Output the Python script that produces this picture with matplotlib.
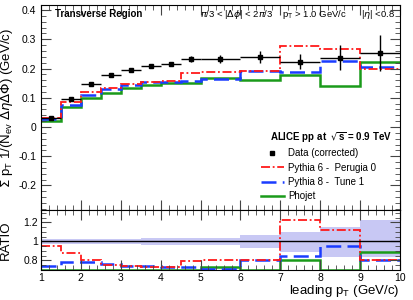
import numpy as np
import matplotlib
matplotlib.use("Agg")
import matplotlib.pyplot as plt
from matplotlib.ticker import MultipleLocator

# bin edges in leading pT (GeV/c)
edges = [1, 1.5, 2, 2.5, 3, 3.5, 4, 4.5, 5, 6, 7, 8, 9, 10]

# top panel: sum pT density
data = [0.030, 0.096, 0.147, 0.179, 0.195, 0.207, 0.215, 0.232, 0.233, 0.240, 0.223, 0.237, 0.254]
data_err = [0.003, 0.004, 0.005, 0.005, 0.005, 0.005, 0.006, 0.010, 0.013, 0.020, 0.025, 0.042, 0.061]
pythia6 = [0.032, 0.085, 0.118, 0.135, 0.147, 0.155, 0.157, 0.185, 0.189, 0.192, 0.276, 0.266, 0.200]
pythia8 = [0.028, 0.075, 0.109, 0.131, 0.145, 0.153, 0.155, 0.157, 0.163, 0.192, 0.189, 0.226, 0.204]
phojet = [0.022, 0.067, 0.100, 0.117, 0.135, 0.142, 0.149, 0.150, 0.167, 0.160, 0.177, 0.141, 0.222]

# bottom panel: MC / data
r6 = [0.95, 0.88, 0.80, 0.75, 0.74, 0.73, 0.73, 0.79, 0.81, 0.81, 1.225, 1.12, 0.80]
r8 = [0.74, 0.78, 0.78, 0.76, 0.74, 0.74, 0.73, 0.73, 0.71, 0.80, 0.845, 0.95, 0.81]
rph = [0.705, 0.705, 0.705, 0.705, 0.705, 0.705, 0.705, 0.705, 0.73, 0.705, 0.80, 0.705, 0.89]
band_hi = [1.03, 1.03, 1.03, 1.03, 1.03, 1.035, 1.035, 1.035, 1.04, 1.07, 1.10, 1.155, 1.22]
band_lo = [0.97, 0.97, 0.97, 0.97, 0.97, 0.965, 0.965, 0.965, 0.96, 0.93, 0.89, 0.84, 0.84]

edges = np.array(edges)
centers = 0.5 * (edges[:-1] + edges[1:])
halfw = 0.5 * np.diff(edges)

red = '#ff1a1a'
blue = '#1a3cff'
green = '#1a9a1a'
band = '#c8c8f4'

plt.rcParams['font.family'] = 'Liberation Sans'

fig = plt.figure(figsize=(4.14, 3.0), dpi=100)
ax = fig.add_axes([0.099, 0.30, 0.867, 0.683])
axr = fig.add_axes([0.099, 0.10, 0.867, 0.20])

# top panel
ax.stairs(phojet, edges, color=green, lw=1.8, baseline=None)
ax.stairs(pythia8, edges, color=blue, lw=1.8, ls=(0, (6, 2.5)), baseline=None)
ax.stairs(pythia6, edges, color=red, lw=1.3, ls=(0, (5, 1.5, 1, 1.5)), baseline=None)
ax.errorbar(centers, data, xerr=halfw, yerr=data_err, fmt='s', color='black',
            ms=3, lw=1.0, capsize=0, zorder=5)

ax.set_xlim(1, 10)
ax.set_ylim(-0.284, 0.417)
ax.yaxis.set_major_locator(MultipleLocator(0.1))
ax.yaxis.set_minor_locator(MultipleLocator(0.02))
ax.xaxis.set_major_locator(MultipleLocator(1))
ax.xaxis.set_minor_locator(MultipleLocator(0.2))
ax.set_yticks([-0.2, -0.1, 0, 0.1, 0.2, 0.3, 0.4])
ax.set_yticklabels(['-0.2', '-0.1', '0', '0.1', '0.2', '0.3', '0.4'])
ax.tick_params(which='both', direction='in', top=True, right=True, labelbottom=False,
               labelsize=7.5, color='#444444')
ax.tick_params(which='major', length=7)
ax.tick_params(which='minor', length=3.5)
ax.set_ylabel(r'$\Sigma$ p$_\mathregular{T}$ 1/(N$_\mathregular{ev}$ $\Delta\eta\Delta\Phi$) (GeV/c)',
              fontsize=9.5, labelpad=2)

ax.text(0.04, 0.955, 'Transverse Region', transform=ax.transAxes, fontsize=7,
        fontweight='bold', va='center')
ax.text(0.985, 0.955,
        r'$\pi$/3 < |$\Delta\phi$| < 2$\pi$/3    p$_\mathregular{T}$ > 1.0 GeV/c      |$\eta$| <0.8',
        transform=ax.transAxes, fontsize=6.8, va='center', ha='right')

# legend
ax.text(0.638, 0.352, r'ALICE pp at  $\sqrt{\mathregular{s}}$ = 0.9 TeV', transform=ax.transAxes,
        fontsize=7, fontweight='bold', va='center')
h_data = ax.errorbar([], [], fmt='s', color='black', ms=2.5)
h6, = ax.plot([], [], color=red, lw=1.3, ls=(0, (5, 1.5, 1, 1.5)))
h8, = ax.plot([], [], color=blue, lw=1.8, ls=(0, (6, 2.5)))
hph, = ax.plot([], [], color=green, lw=1.8)
ax.legend([h_data, h6, h8, hph],
          ['Data (corrected)', 'Pythia 6 -  Perugia 0', 'Pythia 8 -  Tune 1', 'Phojet'],
          loc='upper left', bbox_to_anchor=(0.6, 0.325), frameon=False, fontsize=7,
          handlelength=2.3, handletextpad=0.5, labelspacing=0.45, borderpad=0)

# ratio panel
axr.stairs(band_hi, edges, baseline=band_lo, fill=True, color=band, lw=0)
axr.axhline(1.0, color='black', lw=1.0)
axr.stairs(rph, edges, color=green, lw=1.8, baseline=None)
axr.stairs(r8, edges, color=blue, lw=1.8, ls=(0, (6, 2.5)), baseline=None)
axr.stairs(r6, edges, color=red, lw=1.3, ls=(0, (5, 1.5, 1, 1.5)), baseline=None)

axr.set_xlim(1, 10)
axr.set_ylim(0.7, 1.33)
axr.set_yticks([0.8, 1.0, 1.2])
axr.set_yticklabels(['0.8', '1', '1.2'])
axr.yaxis.set_minor_locator(MultipleLocator(0.05))
axr.xaxis.set_major_locator(MultipleLocator(1))
axr.xaxis.set_minor_locator(MultipleLocator(0.2))
axr.tick_params(which='both', direction='in', top=True, right=True, labelsize=7.5,
                color='#444444', pad=2)
axr.tick_params(which='major', length=7)
axr.tick_params(which='minor', length=3.5)
axr.set_ylabel('RATIO', fontsize=9.5, labelpad=12)
axr.yaxis.set_label_coords(-0.08, 0.5)
axr.set_xlabel(r'leading p$_\mathregular{T}$ (GeV/c)', fontsize=9.5, labelpad=0)
axr.xaxis.set_label_coords(1.0, -0.22)
axr.xaxis.get_label().set_ha('right')

fig.savefig('out.png', dpi=100)
